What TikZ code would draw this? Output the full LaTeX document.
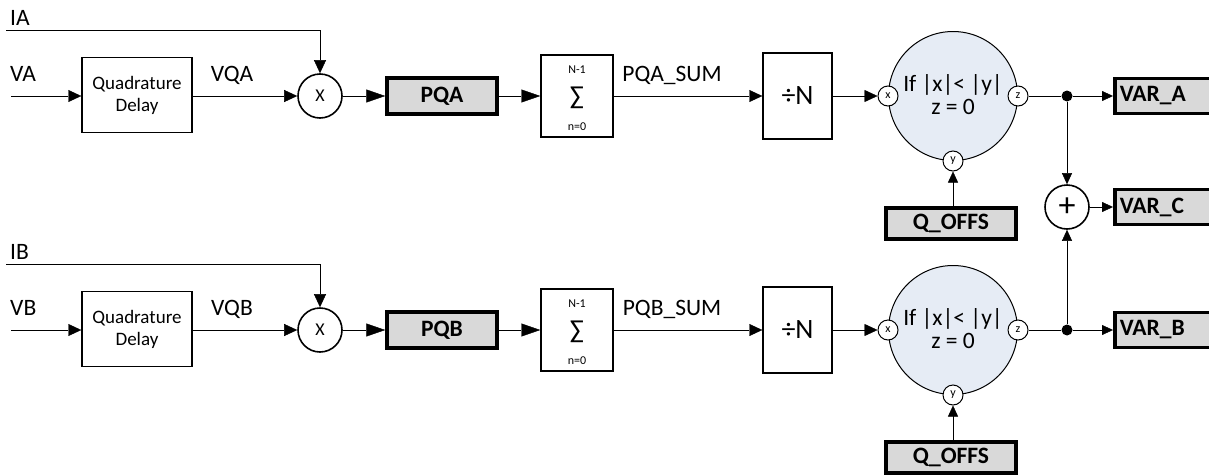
\documentclass[tikz,border=0pt]{standalone}
\usepackage{fontspec}
\setmainfont{Carlito}
\usetikzlibrary{
  arrows.meta,
  positioning,  % Function "of" (e.g. [below=of x])
  calc,         % Calculations $...$
}
\definecolor{regfill}{HTML}{D9D9D9}
\definecolor{cmpfill}{HTML}{E6ECF5}
\newcommand{\lblfont}{\fontsize{23.5}{25}\selectfont}
\newcommand{\boxfont}{\fontsize{19}{22}\selectfont}
\newcommand{\tinyfont}{\fontsize{12}{12}\selectfont}
\tikzset{
  font=\lblfont,
  line width=1.3pt,
  >={Triangle[length=13pt,width=12pt]},
  long tip/.style={-{Triangle[length=19pt,width=13pt]}},
  small tip/.style={-{Triangle[length=11pt,width=10pt]}},
  lbl/.style={
    inner sep=0pt
  },
  blk/.style={
    draw,
    line width=1.4pt,
    inner sep=0pt,
    rectangle
  },
  reg/.style={
    draw,
    line width=3.5pt,
    fill=regfill,
    inner sep=0pt,
    font=\bfseries\lblfont,
    rectangle
  },
  varbox/.style={
    reg,
    anchor=west,
    minimum height=35,
    text width=140,
    inner xsep=5,
    align=left
  },
  mult/.style={
    draw,
    circle,
    line width=1.6pt,
    minimum size=44,
    inner sep=0pt,
    font=\fontsize{18}{18}\selectfont
  },
  cmp/.style={
    draw,
    circle,
    fill=cmpfill,
    line width=1pt,
    minimum size=129,
    inner sep=0pt
  },
  port/.style={
    draw,
    circle,
    fill=white,
    line width=1pt,
    minimum size=20,
    inner sep=0pt,
    font=\tinyfont
  },
  junction/.style={
    circle,
    fill,
    minimum size=11,
    inner sep=0pt
  },
}

\begin{document}
\begin{tikzpicture}[x=1pt,y=-1pt]
\useasboundingbox (0,0) rectangle (1209,474);
\clip (0,0) rectangle (1209,474);
\foreach \rw/\dy in {A/0,B/234}{
\begin{scope}[yshift=-\dy pt]
  % inputs
  \node[lbl,anchor=west] (lblI\rw) at (10,18) {I\rw};
  \node[lbl,anchor=west] (lblV\rw) at (10,74) {V\rw};
  \coordinate (srcI\rw) at (6,30);
  \coordinate (srcV\rw) at (11,96);
  % processing chain
  \node[blk,minimum width=110,minimum height=75,align=center,font=\boxfont]
    (delay\rw) at (137,95) {Quadrature\\Delay};
  \node[lbl] (lblVQ\rw) at (232,75) {VQ\rw};
  \node[mult] (mult\rw) at (320,96) {X};
  \node[reg,minimum width=110,minimum height=36] (PQ\rw) at (442,96) {PQ\rw};
  \node[blk,minimum width=72,minimum height=82] (sum\rw) at (577,96) {};
  \node[lbl,font=\tinyfont] at ($(sum\rw)+(0,-26)$) {N-1};
  \node[lbl,font=\fontsize{26}{26}\selectfont] at ($(sum\rw)+(0,2)$) {∑};
  \node[lbl,font=\tinyfont] at ($(sum\rw)+(0,31)$) {n=0};
  \node[lbl] (lblPQS\rw) at (672,75) {PQ\rw\_SUM};
  \node[blk,minimum width=69,minimum height=86,font=\fontsize{28}{28}\selectfont]
    (div\rw) at (797.5,96) {÷N};
  % comparator
  \node[cmp] (cmp\rw) at (953,96) {};
  \node[lbl,align=center,font=\fontsize{23.5}{23}\selectfont] at (953,95)
    {If |x|< |y|\\z = 0};
  \node[port] (px\rw) at (cmp\rw.west) {x};
  \node[port] (pz\rw) at (cmp\rw.east) {z};
  \node[port] (py\rw) at (cmp\rw.south) {y};
  \node[reg,minimum width=130,minimum height=31] (QO\rw) at (951,223.5) {Q\_OFFS};
  % output
  \node[junction] (j\rw) at (1067,96) {};
  \node[varbox] (VAR\rw) at (1113,96) {VAR\_\rw};
  % connectors
  \draw[->] (srcI\rw) -| (mult\rw.north);
  \draw[->] (srcV\rw) -- (delay\rw.west |- srcV\rw);
  \draw[->] (delay\rw.east |- mult\rw) -- (mult\rw.west);
  \draw[long tip] (mult\rw.east) -- (PQ\rw.west);
  \draw[long tip] (PQ\rw.east) -- (sum\rw.west);
  \draw[->] (sum\rw.east) -- (div\rw.west);
  \draw[->] (div\rw.east |- px\rw) -- (px\rw.west);
  \draw (pz\rw.east) -- (j\rw);
  \draw[small tip] (j\rw) -- (VAR\rw.west |- j\rw);
  \draw[small tip] (py\rw.south |- QO\rw.north) -- (py\rw.south);
\end{scope}
}
% sum of both channels
\node[mult,font=\fontsize{34}{34}\selectfont] (add) at (1067,207) {+};
\node[varbox] (VARC) at (1113,207) {VAR\_C};
\draw[small tip] (jA) -- (add.north);
\draw[small tip] (jB) -- (add.south);
\draw[small tip] (add.east) -- (VARC.west);
\end{tikzpicture}
\end{document}
